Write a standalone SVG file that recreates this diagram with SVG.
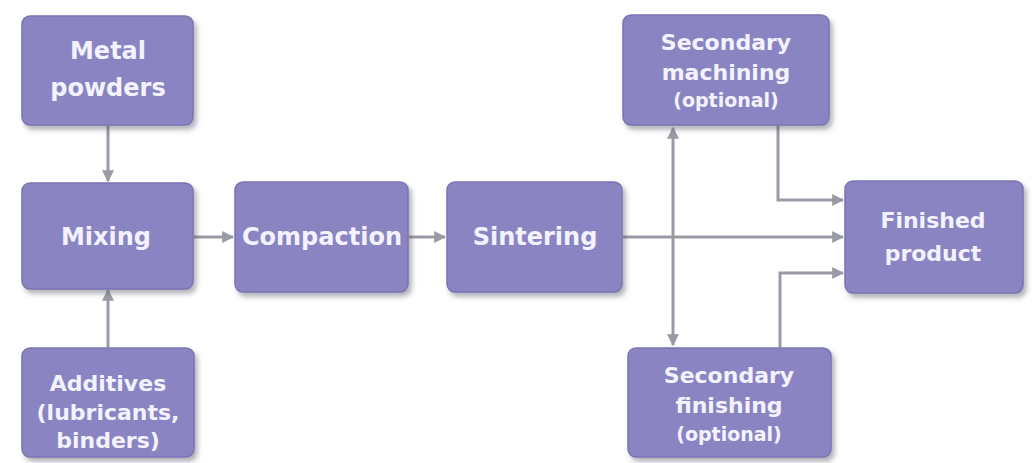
<svg xmlns="http://www.w3.org/2000/svg" width="1032" height="463" viewBox="0 0 1032 463">
  <style>
    .box { fill: #8a85c2; stroke: #7a75b2; stroke-width: 1.5; filter: url(#shadow); }
    .lbl { font-family: "DejaVu Sans", Verdana, sans-serif; font-weight: bold; fill: #f4f2ff; text-anchor: middle; }
    .big { font-size: 24px; }
    .mid { font-size: 22px; }
    .sml { font-size: 19px; }
    .wire { fill: none; stroke: #9a9aa6; stroke-width: 3; }
  </style>
  <defs>
    <filter id="shadow" x="-10%" y="-10%" width="125%" height="130%">
      <feDropShadow dx="3" dy="4" stdDeviation="2.5" flood-color="#555566" flood-opacity="0.45"/>
    </filter>
    <marker id="arrow" viewBox="0 0 10 10" refX="9" refY="5" markerWidth="4" markerHeight="4" orient="auto-start-reverse">
      <path d="M0,0 L10,5 L0,10 z" fill="#9a9aa6"/>
    </marker>
  </defs>

  <rect width="1032" height="463" fill="#ffffff"/>

  <!-- connectors -->
  <g id="connectors">
    <path class="wire" d="M108,126 V181" marker-end="url(#arrow)"/>
    <path class="wire" d="M108,347 V290" marker-end="url(#arrow)"/>
    <path class="wire" d="M194,237 H233" marker-end="url(#arrow)"/>
    <path class="wire" d="M409,237 H445" marker-end="url(#arrow)"/>
    <path class="wire" d="M623,237 H843" marker-end="url(#arrow)"/>
    <path class="wire" d="M673,128 V345" marker-start="url(#arrow)" marker-end="url(#arrow)"/>
    <path class="wire" d="M778,126 V200 H843" marker-end="url(#arrow)"/>
    <path class="wire" d="M780,347 V273 H843" marker-end="url(#arrow)"/>
  </g>

  <!-- process steps -->
  <g id="metal-powders">
    <rect class="box" x="22" y="16" width="171" height="109" rx="8"/>
    <text class="lbl big" x="108" y="59">Metal</text>
    <text class="lbl big" x="108" y="96">powders</text>
  </g>

  <g id="mixing">
    <rect class="box" x="22" y="183" width="171" height="106" rx="8"/>
    <text class="lbl big" x="106" y="245">Mixing</text>
  </g>

  <g id="additives">
    <rect class="box" x="22" y="348" width="172" height="109" rx="8"/>
    <text class="lbl mid" x="108" y="391">Additives</text>
    <text class="lbl mid" x="108" y="420">(lubricants,</text>
    <text class="lbl mid" x="108" y="448">binders)</text>
  </g>

  <g id="compaction">
    <rect class="box" x="235" y="182" width="173" height="110" rx="8"/>
    <text class="lbl big" x="322" y="245">Compaction</text>
  </g>

  <g id="sintering">
    <rect class="box" x="447" y="182" width="175" height="110" rx="8"/>
    <text class="lbl big" x="535" y="245">Sintering</text>
  </g>

  <g id="secondary-machining">
    <rect class="box" x="623" y="15" width="206" height="110" rx="8"/>
    <text class="lbl mid" x="726" y="50">Secondary</text>
    <text class="lbl mid" x="726" y="80">machining</text>
    <text class="lbl sml" x="726" y="107">(optional)</text>
  </g>

  <g id="secondary-finishing">
    <rect class="box" x="628" y="348" width="203" height="109" rx="8"/>
    <text class="lbl mid" x="729" y="383">Secondary</text>
    <text class="lbl mid" x="729" y="413">finishing</text>
    <text class="lbl sml" x="729" y="441">(optional)</text>
  </g>

  <g id="finished-product">
    <rect class="box" x="845" y="181" width="178" height="112" rx="8"/>
    <text class="lbl mid" x="933" y="228">Finished</text>
    <text class="lbl mid" x="933" y="261">product</text>
  </g>
</svg>
